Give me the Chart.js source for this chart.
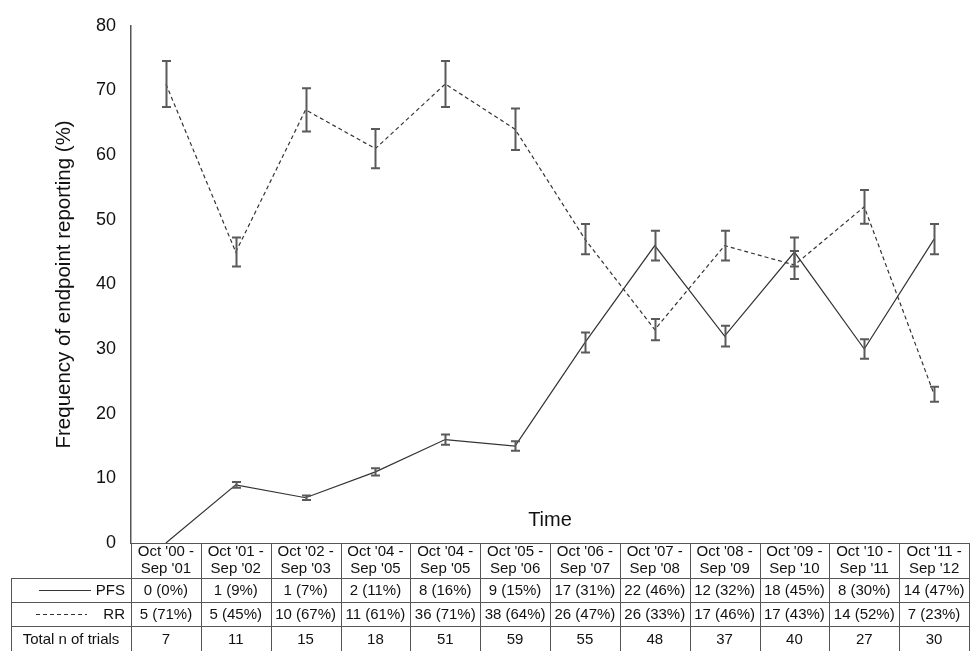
<!DOCTYPE html>
<html><head><meta charset="utf-8">
<script src="https://cdn.jsdelivr.net/npm/chart.js@4/dist/chart.umd.min.js"></script>
<style>html,body{margin:0;padding:0;background:#fff;}#wrap{width:972px;height:651px;}</style>
</head><body><div id="wrap"><canvas id="c" width="972" height="651"></canvas></div>
<script>
const periodStart = ["Oct '00 -","Oct '01 -","Oct '02 -","Oct '04 -","Oct '04 -","Oct '05 -","Oct '06 -","Oct '07 -","Oct '08 -","Oct '09 -","Oct '10 -","Oct '11 -"];
const periodEnd = ["Sep '01","Sep '02","Sep '03","Sep '05","Sep '05","Sep '06","Sep '07","Sep '08","Sep '09","Sep '10","Sep '11","Sep '12"];
const pfsValues = [0,9,7,11,16,15,31,46,32,45,30,47];
const pfsErrors = [0,0.45,0.35,0.55,0.8,0.75,1.55,2.3,1.6,2.25,1.5,2.35];
const rrValues = [71,45,67,61,71,64,47,33,46,43,52,23];
const rrErrors = [3.55,2.25,3.35,3.05,3.55,3.2,2.35,1.65,2.3,2.15,2.6,1.15];
const pfsCells = ["0 (0%)","1 (9%)","1 (7%)","2 (11%)","8 (16%)","9 (15%)","17 (31%)","22 (46%)","12 (32%)","18 (45%)","8 (30%)","14 (47%)"];
const rrCells = ["5 (71%)","5 (45%)","10 (67%)","11 (61%)","36 (71%)","38 (64%)","26 (47%)","26 (33%)","17 (46%)","17 (43%)","14 (52%)","7 (23%)"];
const totalTrials = ["7","11","15","18","51","59","55","48","37","40","27","30"];
const yTickValues = [0,10,20,30,40,50,60,70,80];
const rowLabels = ["PFS","RR","Total n of trials"];
const yTitle = "Frequency of endpoint reporting (%)";
const xTitle = "Time";

const categories = periodStart.map((s,i)=>s+" "+periodEnd[i]);
const FONT = "'Liberation Sans', Arial, sans-serif";

const errorBarPlugin = {
  id:'errorBars',
  afterDatasetsDraw(chart){
    const ctx = chart.ctx, y = chart.scales.y;
    chart.data.datasets.forEach((ds,di)=>{
      const meta = chart.getDatasetMeta(di);
      const errs = ds.errors || [];
      meta.data.forEach((pt,i)=>{
        const e = errs[i]; if(!e) return;
        const v = ds.data[i];
        const x = Math.round(pt.x)+0.5;
        const yt = y.getPixelForValue(v+e), yb = y.getPixelForValue(v-e);
        ctx.save();
        ctx.strokeStyle = '#5a5a5a'; ctx.lineWidth = 2; ctx.setLineDash([]);
        ctx.beginPath();
        ctx.moveTo(x,yt); ctx.lineTo(x,yb);
        ctx.moveTo(x-4.5,yt); ctx.lineTo(x+4.5,yt);
        ctx.moveTo(x-4.5,yb); ctx.lineTo(x+4.5,yb);
        ctx.stroke();
        ctx.restore();
      });
    });
  }
};

const tablePlugin = {
  id:'dataTable',
  afterDraw(chart){
    const ctx = chart.ctx, xs = chart.scales.x, ca = chart.chartArea;
    const n = categories.length;
    const colW = (ca.right-ca.left)/n;
    const rows = [ca.bottom, ca.bottom+35, ca.bottom+59, ca.bottom+83, ca.bottom+108];
    const labelLeft = 11;
    ctx.save();
    ctx.strokeStyle = '#555'; ctx.lineWidth = 1; ctx.setLineDash([]);
    ctx.beginPath();
    ctx.moveTo(ca.left, Math.round(rows[0])+0.5); ctx.lineTo(ca.right, Math.round(rows[0])+0.5);
    for(let r=1;r<4;r++){ ctx.moveTo(labelLeft, Math.round(rows[r])+0.5); ctx.lineTo(ca.right, Math.round(rows[r])+0.5); }
    for(let i=0;i<=n;i++){
      const x = Math.round(ca.left+i*colW)+0.5;
      ctx.moveTo(x, rows[0]); ctx.lineTo(x, rows[4]);
    }
    ctx.moveTo(labelLeft+0.5, rows[1]); ctx.lineTo(labelLeft+0.5, rows[4]);
    ctx.stroke();

    ctx.fillStyle = '#111';
    ctx.font = "15px " + FONT;
    ctx.textAlign = 'center'; ctx.textBaseline = 'middle';
    for(let i=0;i<n;i++){
      const cx = xs.getPixelForValue(i);
      ctx.fillText(periodStart[i], cx, rows[0]+9);
      ctx.fillText(periodEnd[i], cx, rows[0]+26);
      ctx.fillText(pfsCells[i], cx, (rows[1]+rows[2])/2+1);
      ctx.fillText(rrCells[i], cx, (rows[2]+rows[3])/2+1);
      ctx.fillText(totalTrials[i], cx, (rows[3]+rows[4])/2+1);
    }
    ctx.textAlign = 'right';
    ctx.fillText(rowLabels[0], ca.left-6, (rows[1]+rows[2])/2+1);
    ctx.fillText(rowLabels[1], ca.left-6, (rows[2]+rows[3])/2+1);
    ctx.textAlign = 'center';
    ctx.fillText(rowLabels[2], (labelLeft+ca.left)/2, (rows[3]+rows[4])/2+1);
    ctx.strokeStyle = '#333'; ctx.lineWidth = 1;
    ctx.beginPath();
    ctx.moveTo(39,(rows[1]+rows[2])/2+0.5); ctx.lineTo(91,(rows[1]+rows[2])/2+0.5);
    ctx.stroke();
    ctx.setLineDash([4,3]);
    ctx.beginPath();
    ctx.moveTo(36,(rows[2]+rows[3])/2+0.5); ctx.lineTo(87,(rows[2]+rows[3])/2+0.5);
    ctx.stroke();
    ctx.setLineDash([]);
    ctx.font = "20px " + FONT;
    ctx.fillStyle = '#111';
    ctx.textAlign='center'; ctx.textBaseline='middle';
    ctx.fillText(xTitle, (ca.left+ca.right)/2, ca.bottom-23);
    ctx.restore();
  }
};

new Chart(document.getElementById('c'), {
  type:'line',
  data:{
    labels: categories,
    datasets:[
      {label:'PFS', data:pfsValues, errors:pfsErrors, borderColor:'#333', borderWidth:1.2, pointRadius:0, fill:false, tension:0},
      {label:'RR', data:rrValues, errors:rrErrors, borderColor:'#333', borderWidth:1.2, borderDash:[4,3], pointRadius:0, fill:false, tension:0}
    ]
  },
  options:{
    responsive:false, animation:false, devicePixelRatio:1,
    layout:{padding:{top:20,right:3,bottom:108,left:0}},
    plugins:{legend:{display:false}, tooltip:{enabled:false}},
    scales:{
      x:{display:false, offset:true},
      y:{
        min:0, max:80,
        afterFit(s){ s.width = 131; },
        afterBuildTicks(s){ s.ticks = yTickValues.map(v=>({value:v})); },
        grid:{display:false, drawTicks:false},
        border:{display:true, color:'#555', width:1.5},
        ticks:{padding:15, color:'#111', font:{family:FONT, size:18}},
        title:{display:true, text:yTitle, color:'#111', font:{family:FONT, size:20.5}, padding:{top:52,bottom:0}}
      }
    }
  },
  plugins:[errorBarPlugin, tablePlugin]
});
</script></body></html>
